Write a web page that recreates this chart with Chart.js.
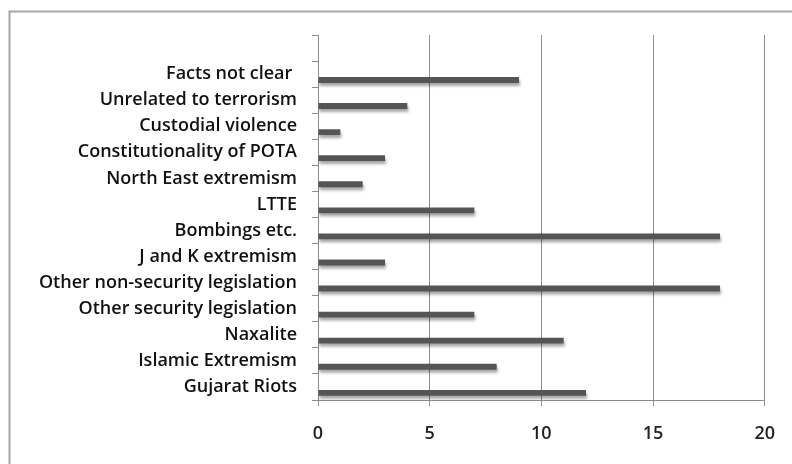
<!DOCTYPE html>
<html>
<head>
<meta charset="utf-8">
<script src="https://cdn.jsdelivr.net/npm/chart.js@4/dist/chart.umd.min.js"></script>
<style>
  html, body { margin: 0; padding: 0; background: #fff; }
  #wrap { width: 792px; height: 464px; position: relative; }
</style>
</head>
<body>
<div id="wrap"><canvas id="mychart"></canvas></div>
<script>
// categories top to bottom (first slot is empty in the original)
var categories = ['', 'Facts not clear ', 'Unrelated to terrorism', 'Custodial violence',
    'Constitutionality of POTA', 'North East extremism', 'LTTE', 'Bombings etc.',
    'J and K extremism', 'Other non-security legislation', 'Other security legislation',
    'Naxalite', 'Islamic Extremism', 'Gujarat Riots'];
var cases = [null, 9, 4, 1, 3, 2, 7, 18, 3, 18, 7, 11, 8, 12];
var emptySeries = [null, null, null, null, null, null, null, null, null, null, null, null, null, null];
var xTicks = [0, 5, 10, 15, 20];

var gray = '#8c8c8c';
var labelFont = { family: 'Open Sans', size: 18, weight: '600' };

// light frame, only top and left edges show inside the picture
const frame = {
    id: 'frame',
    beforeDraw(chart) {
        const c = chart.ctx;
        c.save();
        c.fillStyle = '#fff';
        c.fillRect(0, 0, chart.width, chart.height);
        c.strokeStyle = '#a6a6a6';
        c.lineWidth = 2;
        c.beginPath();
        c.moveTo(9.5, chart.height + 5);
        c.lineTo(9.5, 11.5);
        c.lineTo(chart.width + 5, 11.5);
        c.stroke();
        c.restore();
    }
};

// soft drop shadow under the bars
const barShadow = {
    id: 'barShadow',
    beforeDatasetsDraw(chart) {
        const c = chart.ctx;
        c.save();
        c.shadowColor = 'rgba(0,0,0,0.35)';
        c.shadowBlur = 3;
        c.shadowOffsetX = 1;
        c.shadowOffsetY = 3;
    },
    afterDatasetsDraw(chart) {
        chart.ctx.restore();
    }
};

var ctx = document.getElementById('mychart').getContext('2d');
var myChart = new Chart(ctx, {
    type: 'bar',
    data: {
        labels: categories,
        datasets: [{
            label: 'blank',
            data: emptySeries,
            backgroundColor: '#555555'
        }, {
            label: 'Cases',
            data: cases,
            backgroundColor: '#555555'
        }]
    },
    options: {
        indexAxis: 'y',
        responsive: true,
        maintainAspectRatio: false,
        animation: false,
        layout: { padding: { top: 35, right: 26, left: 0, bottom: 0 } },
        categoryPercentage: 0.9,
        barPercentage: 0.5,
        plugins: {
            legend: { display: false },
            tooltip: { enabled: false }
        },
        scales: {
            x: {
                min: 0,
                max: 20,
                afterFit: function (scale) { scale.height = 64; },
                afterBuildTicks: function (scale) {
                    scale.ticks = xTicks.map(function (v) { return { value: v }; });
                },
                grid: {
                    color: gray,
                    lineWidth: 1,
                    drawTicks: true,
                    tickLength: 6,
                    tickColor: gray
                },
                border: { display: true, color: gray, width: 1 },
                ticks: {
                    color: '#222',
                    padding: 17,
                    font: labelFont
                }
            },
            y: {
                afterFit: function (scale) { scale.width = 318; },
                grid: {
                    drawOnChartArea: false,
                    drawTicks: true,
                    tickLength: 6,
                    tickColor: gray,
                    offset: true
                },
                border: { display: true, color: gray, width: 1 },
                ticks: {
                    color: '#111',
                    padding: 15,
                    autoSkip: false,
                    font: labelFont
                }
            }
        }
    },
    plugins: [frame, barShadow]
});
</script>
</body>
</html>
